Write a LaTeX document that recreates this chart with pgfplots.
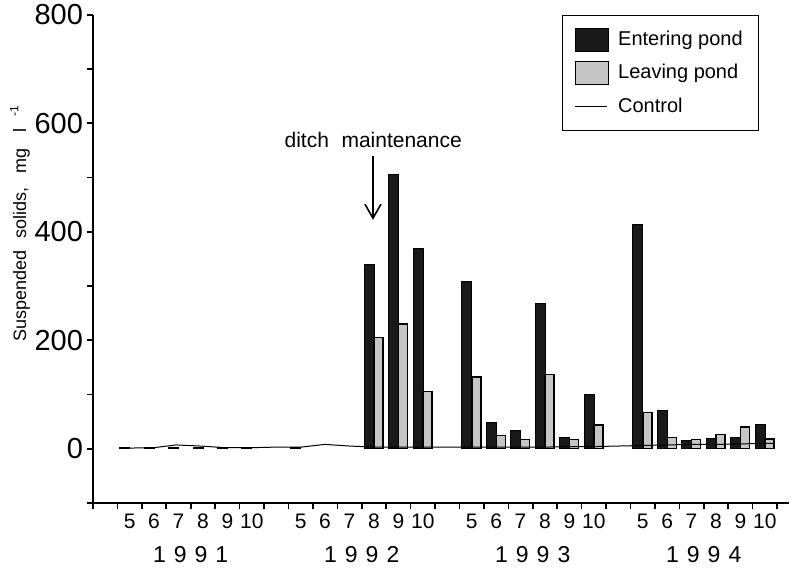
\documentclass[border=0pt]{standalone}
\usepackage{pgfplots}
\pgfplotsset{compat=1.18}
\usepackage{fontspec}
\setmainfont{Liberation Sans}
\usetikzlibrary{arrows.meta}
\pgfplotsset{
  mybarlegend/.style={legend image code/.code={\draw[##1,/tikz/.cd,bar shift=0pt] (0pt,-5.75pt) rectangle (16.5pt,5.75pt); \path (19pt,0pt);}},
  mylinelegend/.style={legend image code/.code={\draw[##1] (0pt,0pt) -- (16pt,0pt); \path (19pt,0pt);}},
}
\begin{document}
\begin{tikzpicture}
\useasboundingbox (-46.5pt,-32.5pt) rectangle (350pt,251.5pt);
\begin{axis}[
  at={(0,0)}, anchor=south west,
  x=12.215pt, y=0.27125pt,
  xmin=0, xmax=28.5, ymin=-100, ymax=800,
  axis lines=left,
  axis line style={-, line width=0.8pt},
  tick style={black, line width=0.8pt},
  tick align=outside,
  major tick length=3pt, minor tick length=3pt,
  ytick={0,200,400,600,800},
  minor ytick={-100,100,300,500,700},
  yticklabel style={font=\fontsize{14.5}{14.5}\selectfont, xshift=1.5pt},
  /pgf/number format/assume math mode=true,
  xtick={0,1,2,3,4,5,6,7,8,9,10,11,12,13,14,15,16,17,18,19,20,21,22,23,24,25,26,27,28},
  xticklabels={},
  extra x ticks={1.5,2.5,3.5,4.5,5.5,6.5,8.5,9.5,10.5,11.5,12.5,13.5,15.5,16.5,17.5,18.5,19.5,20.5,22.5,23.5,24.5,25.5,26.5,27.5},
  extra x tick labels={5,6,7,8,9,10,5,6,7,8,9,10,5,6,7,8,9,10,5,6,7,8,9,10},
  extra x tick style={major tick length=0pt, xticklabel style={font=\fontsize{10.5}{10.5}\selectfont, yshift=-2pt}},
  clip=false,
  legend style={at={(0.957,1.0)}, anchor=north east, draw=black, line width=0.6pt,
    font=\fontsize{10}{10}\selectfont, row sep=4pt, inner xsep=6pt, inner ysep=5.75pt},
  legend cell align=left,
]
\addplot[ybar, bar width=5pt, bar shift=-2.4pt, fill=black!90, draw=black, line width=0.5pt, mybarlegend]
  coordinates {
  (1.5,3) (2.5,3) (3.5,3) (4.5,3) (5.5,3) (6.5,3)
  (8.5,3) (11.5,340) (12.5,505) (13.5,370)
  (15.5,308) (16.5,48) (17.5,34) (18.5,268) (19.5,21) (20.5,100)
  (22.5,413) (23.5,70) (24.5,15) (25.5,18) (26.5,21) (27.5,44)
  };
\addlegendentry{Entering pond\hspace{4pt}}
\addplot[ybar, bar width=4.5pt, bar shift=2.35pt, fill=gray!45, draw=black, line width=0.7pt, mybarlegend]
  coordinates {
  (11.5,205) (12.5,230) (13.5,106)
  (15.5,132) (16.5,24) (17.5,17) (18.5,137) (19.5,17) (20.5,44)
  (22.5,67) (23.5,21) (24.5,17) (25.5,26) (26.5,40) (27.5,18)
  };
\addlegendentry{Leaving pond}
\addplot[black, line width=0.5pt, sharp plot, mark=none, mylinelegend]
  coordinates {
  (1.2,1) (2.5,2) (3.4,7) (4.4,5) (5.4,2) (6.5,2) (7.5,3) (8.5,3) (9.5,8) (10.5,5)
  (11.5,3) (12.5,3) (13.5,3) (14.5,3) (15.5,3) (16.5,3) (17.5,3) (18.5,3) (19.5,4)
  (20.5,4) (21.5,5) (22.5,6) (23.5,7) (24.5,8) (25.5,8) (26.5,9) (27.9,10)
  };
\addlegendentry{Control}
\node[font=\fontsize{10.5}{10.5}\selectfont] at (axis cs:11.47,570) {ditch\hspace{0.6em}maintenance};
\draw[-{Straight Barb[length=7pt,width=8pt]}, line width=0.8pt] (axis cs:11.46,539) -- (axis cs:11.46,422);
\node[font=\fontsize{11.5}{11.5}\selectfont] at (axis cs:4,-100) [yshift=-26pt] {1\hspace{4pt}9\hspace{4pt}9\hspace{4pt}1};
\node[font=\fontsize{11.5}{11.5}\selectfont] at (axis cs:11,-100) [yshift=-26pt] {1\hspace{4pt}9\hspace{4pt}9\hspace{4pt}2};
\node[font=\fontsize{11.5}{11.5}\selectfont] at (axis cs:18,-100) [yshift=-26pt] {1\hspace{4pt}9\hspace{4pt}9\hspace{4pt}3};
\node[font=\fontsize{11.5}{11.5}\selectfont] at (axis cs:25,-100) [yshift=-26pt] {1\hspace{4pt}9\hspace{4pt}9\hspace{4pt}4};
\end{axis}
\node[rotate=90, font=\fontsize{9}{9}\selectfont] at (-36.5pt,140pt) {Suspended\hspace{6pt}solids,\hspace{7pt}mg\hspace{8pt}l\hspace{6pt}\textsuperscript{-1}};
\end{tikzpicture}
\end{document}
